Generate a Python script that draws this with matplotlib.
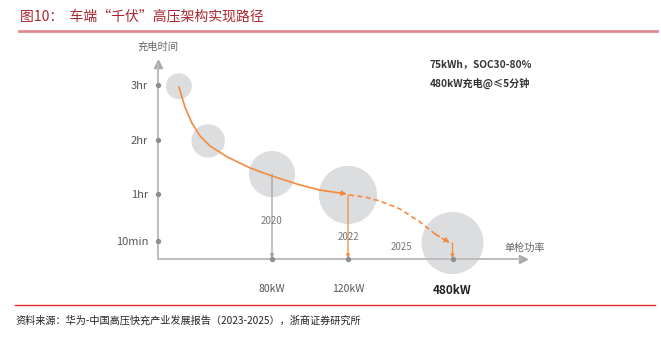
import matplotlib
matplotlib.use('Agg')
import matplotlib.pyplot as plt
from matplotlib.lines import Line2D

plt.rcParams['font.family'] = ['Noto Sans CJK SC', 'DejaVu Sans']

# chart data (schematic positions on the axes)
time_ticks = [1.0, 3.6, 6.6, 9.67]
time_labels = ['10min', '1hr', '2hr', '3hr']
power_ticks = [3.0, 5.0, 7.75]
power_labels = ['80kW', '120kW', '480kW']

bubble_x = [0.55, 1.32, 3.0, 5.0, 7.75]
bubble_y = [9.6, 6.56, 4.72, 3.56, 0.89]
bubble_size = [350, 580, 1100, 1750, 2000]

years = ['2020', '2022', '2025']
year_x = [3.0, 5.0, 6.4]
year_y = [2.1, 1.2, 0.65]

# solid path 3hr -> 2022, dashed path 2022 -> 2025
solid_x = [0.55, 0.71, 0.89, 1.11, 1.37, 1.82, 2.42, 3.0, 3.74, 4.26, 4.97]
solid_y = [9.56, 8.44, 7.56, 6.83, 6.28, 5.67, 5.06, 4.61, 4.11, 3.83, 3.61]
dash_x = [5.03, 5.45, 5.84, 6.37, 6.89, 7.29, 7.68]
dash_y = [3.56, 3.44, 3.22, 2.78, 2.06, 1.39, 0.89]

ORANGE = '#F58A3C'
GRAY = '#BDBDBF'
DOT = '#8E8E90'

fig = plt.figure(figsize=(6.61, 3.37), dpi=100)
ax = fig.add_axes([150 / 661, (337 - 265) / 337, 395 / 661, 215 / 337])
ax.set_xlim(-8 / 38, 387 / 38)
ax.set_ylim(-6 / 18, 209 / 18)

# axes with arrows
for s in ['top', 'right']:
    ax.spines[s].set_visible(False)
ax.spines['left'].set_position(('data', 0))
ax.spines['bottom'].set_position(('data', 0))
ax.spines['left'].set_bounds(0, 10.85)
ax.spines['bottom'].set_bounds(0, 9.55)
for s in ['left', 'bottom']:
    ax.spines[s].set_color(GRAY)
    ax.spines[s].set_linewidth(1.4)
ax.plot(0, 10.85, marker='^', color='#A9A9AB', ms=6, clip_on=False)
ax.plot(9.6, 0, marker='>', color='#A9A9AB', ms=6, clip_on=False)

ax.set_yticks(time_ticks, time_labels)
ax.set_xticks(power_ticks, power_labels)
ax.tick_params(axis='y', length=0, pad=7, labelsize=8, labelcolor='#555555')
ax.tick_params(axis='x', length=0, pad=18, labelsize=7.5, labelcolor='#555555')
big = ax.get_xticklabels()[-1]
big.set_fontweight('bold')
big.set_fontsize(8.5)
big.set_color('#222222')

# tick dots
ax.scatter([0] * len(time_ticks), time_ticks, s=8, color=DOT, zorder=5, clip_on=False)
ax.scatter(power_ticks, [0] * len(power_ticks), s=8, color=DOT, zorder=5, clip_on=False)

# bubbles
ax.scatter(bubble_x, bubble_y, s=bubble_size, color='#DCDDDF', linewidths=0, zorder=1,
           clip_on=False)

# drop lines to the power axis
arr = dict(arrowstyle='-|>', lw=0.9, mutation_scale=5, shrinkA=0, shrinkB=0)
ax.annotate('', xy=(bubble_x[2], 0.05), xytext=(bubble_x[2], bubble_y[2]),
            arrowprops=dict(arr, color='#A0A0A2'), zorder=3)
ax.annotate('', xy=(bubble_x[3], 0.05), xytext=(bubble_x[3], bubble_y[3]),
            arrowprops=dict(arr, color=ORANGE), zorder=3)
ax.annotate('', xy=(bubble_x[4], 0.05), xytext=(bubble_x[4], bubble_y[4]),
            arrowprops=dict(arr, color=ORANGE), zorder=3)

# solid path with arrow head
ax.plot(solid_x[:-1], solid_y[:-1], color=ORANGE, lw=1.2, zorder=4, solid_capstyle='round',
        solid_joinstyle='round')
ax.annotate('', xy=(solid_x[-1], solid_y[-1]), xytext=(solid_x[-2], solid_y[-2]),
            arrowprops=dict(arrowstyle='-|>', color=ORANGE, lw=1.2, mutation_scale=7,
                            shrinkA=0, shrinkB=0), zorder=4)

# dashed path with arrow head
ax.plot(dash_x[:-1], dash_y[:-1], color=ORANGE, lw=1.2, ls=(0, (3, 2)), zorder=4)
ax.annotate('', xy=(dash_x[-1], dash_y[-1]), xytext=(dash_x[-2], dash_y[-2]),
            arrowprops=dict(arrowstyle='-|>', color=ORANGE, lw=1.2, ls=(0, (3, 2)),
                            mutation_scale=7, shrinkA=0, shrinkB=0), zorder=4)

for x, y, t in zip(year_x, year_y, years):
    ax.text(x, y, t, ha='center', va='center', fontsize=7, color='#777777')

ax.text(0, 11.8, '充电时间', ha='center', va='center', fontsize=7.4, color='#666666',
        clip_on=False)
ax.text(9.66, 0.65, '单枪功率', ha='center', va='center', fontsize=7.3, color='#666666')
ax.text(7.15, 10.8, '75kWh，SOC30-80%', ha='left', va='center', fontsize=7.3,
        fontweight='bold', color='#333333')
ax.text(7.15, 9.75, '480kW充电@≤5分钟', ha='left', va='center', fontsize=7.3,
        fontweight='bold', color='#333333')

# report frame: title, rules, source
fig.text(20 / 661, 1 - 16 / 337, '图10：  车端“千伏”高压架构实现路径', fontsize=10,
         color='#A8262F', ha='left', va='center')
fig.add_artist(Line2D([19 / 661, 657 / 661], [1 - 31 / 337] * 2, color='#E08A90', lw=2))
fig.add_artist(Line2D([15 / 661, 655 / 661], [1 - 305 / 337] * 2, color='#E0252A', lw=1))
fig.text(15 / 661, 1 - 321 / 337,
         '资料来源：华为-中国高压快充产业发展报告（2023-2025），浙商证券研究所',
         fontsize=7.3, color='#222222', ha='left', va='center')

fig.savefig('out.png', dpi=100)
